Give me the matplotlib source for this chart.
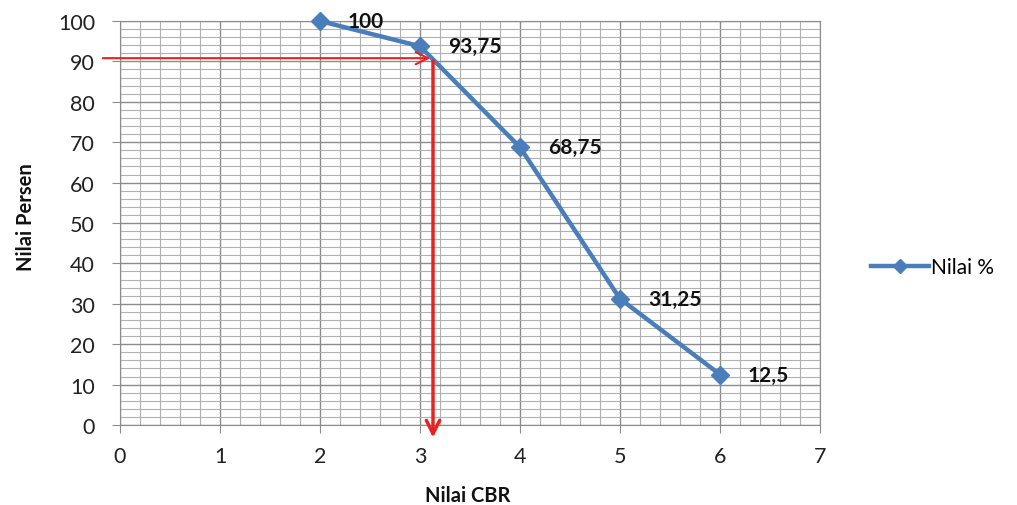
import matplotlib
matplotlib.use("Agg")
import matplotlib.pyplot as plt
from matplotlib.ticker import MultipleLocator

cbr = [2, 3, 4, 5, 6]
persen = [100, 93.75, 68.75, 31.25, 12.5]
labels = ["100", "93,75", "68,75", "31,25", "12,5"]
x_ticks = [0, 1, 2, 3, 4, 5, 6, 7]
y_ticks = [0, 10, 20, 30, 40, 50, 60, 70, 80, 90, 100]
cbr_90 = 3.13
target = 90.8

plt.rcParams['font.family'] = ['Lato', 'DejaVu Sans']
fig = plt.figure(figsize=(10.17, 5.06), dpi=100)
ax = fig.add_axes([120/1017, 1-426/506, 700/1017, 404/506])

ax.set_xlim(0, 7)
ax.set_ylim(0, 100)
ax.set_xticks(x_ticks)
ax.set_yticks(y_ticks)
ax.xaxis.set_minor_locator(MultipleLocator(0.2))
ax.yaxis.set_minor_locator(MultipleLocator(2))
ax.grid(which='major', color='#8c8c8c', linewidth=1.0)
ax.grid(which='minor', color='#b0b0b0', linewidth=0.8)
ax.set_axisbelow(True)
for s in ax.spines.values():
    s.set_color('#8c8c8c')
ax.tick_params(which='major', length=6, color='#8c8c8c', labelsize=15.5, labelcolor='#222222')
ax.tick_params(axis='y', pad=12)
ax.tick_params(axis='x', pad=9)
ax.tick_params(which='minor', length=0)

line, = ax.plot(cbr, persen, color='#4a7ebb', linewidth=3.2, marker='D', markersize=9,
                label='Nilai %', clip_on=False, zorder=5)
for xv, yv, t in zip(cbr, persen, labels):
    ax.annotate(t, (xv, yv), xytext=(20, 0), textcoords='offset points', fontsize=15,
                fontweight='bold', va='center', ha='left', color='#111111',
                annotation_clip=False, zorder=6)

# red reading arrows
ax.annotate('', xy=(cbr_90, target), xytext=(-0.2, target),
            arrowprops=dict(arrowstyle='->', color='#e8231f', lw=1.5, mutation_scale=22),
            annotation_clip=False, zorder=7)
ax.annotate('', xy=(cbr_90, -3.8), xytext=(cbr_90, target),
            arrowprops=dict(arrowstyle='->', color='#e8231f', lw=2.5, mutation_scale=24),
            annotation_clip=False, zorder=7)

ax.set_xlabel('Nilai CBR', fontsize=14.5, fontweight='bold', va='center', color='#111111')
ax.xaxis.set_label_coords((468-120)/700, (426-496)/404)
ax.set_ylabel('Nilai Persen', fontsize=14.5, fontweight='bold', va='center', color='#111111')
ax.yaxis.set_label_coords((26-120)/700, (426-217)/404)

fig.legend(handles=[line], loc='center left', bbox_to_anchor=(852/1017, 1-268/506),
           frameon=False, fontsize=15, handlelength=2.8, handletextpad=0.1, markerscale=0.8)

fig.savefig('out.png', dpi=100)
